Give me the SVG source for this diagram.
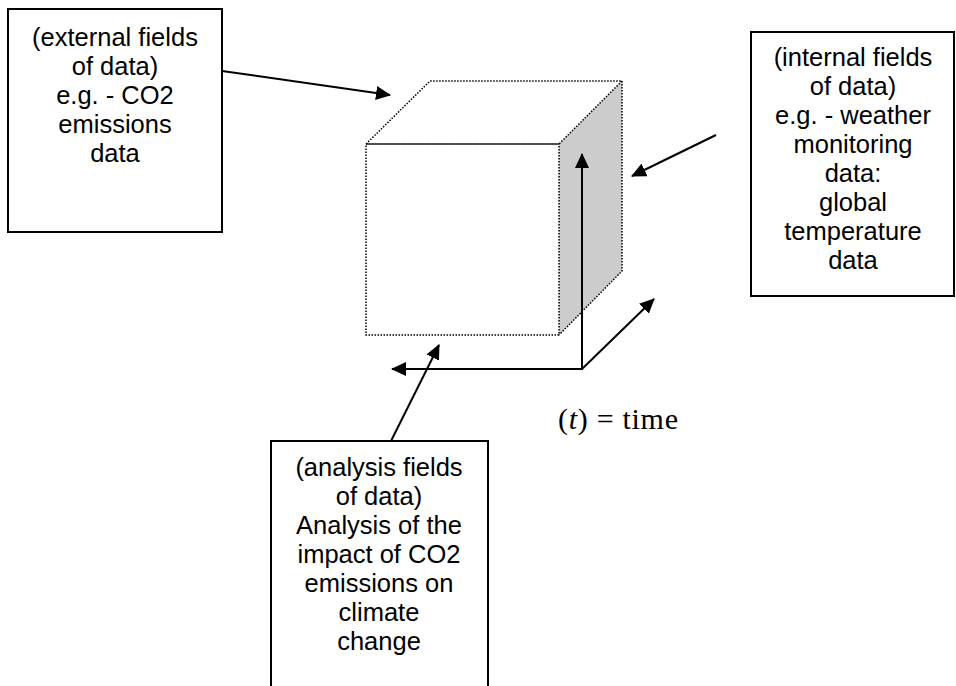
<svg xmlns="http://www.w3.org/2000/svg" width="956" height="686" viewBox="0 0 956 686">
<defs>
<style>
.box{fill:#fff;stroke:#000;stroke-width:2}
.lbl{font-family:"Liberation Sans",Arial,sans-serif;font-size:25.5px;fill:#000;text-anchor:middle}
.dot{fill:none;stroke:#000;stroke-width:1.5;stroke-dasharray:1.5 1.5}
.arr{fill:none;stroke:#000;stroke-width:2;marker-end:url(#ah)}
.math{font-family:"Liberation Serif","Times New Roman",serif;font-size:30px;fill:#000}
</style>
<marker id="ah" markerUnits="userSpaceOnUse" markerWidth="16" markerHeight="15" refX="14" refY="7" orient="auto" viewBox="0 0 16 15">
<path d="M0,0 L15,7 L0,14 z" fill="#000"/>
</marker>
</defs>
<rect width="956" height="686" fill="#fff"/>

<g id="cube">
<polygon points="559,144 622,81 622,271 559,335" fill="#cccccc"/>
<polygon class="dot" points="366,144 430,81 622,81 559,144"/>
<polyline class="dot" points="622,81 622,271 559,335"/>
<rect class="dot" x="366" y="144" width="193" height="191"/>
</g>

<g id="external">
<rect class="box" x="8" y="9" width="214" height="223"/>
<text class="lbl" x="115" y="46">(external fields</text>
<text class="lbl" x="115" y="75">of data)</text>
<text class="lbl" x="115" y="104">e.g. - CO2</text>
<text class="lbl" x="115" y="133">emissions</text>
<text class="lbl" x="115" y="162">data</text>
</g>

<g id="internal">
<rect class="box" x="751" y="32" width="203" height="264"/>
<text class="lbl" x="853" y="66">(internal fields</text>
<text class="lbl" x="853" y="95">of data)</text>
<text class="lbl" x="853" y="124">e.g. - weather</text>
<text class="lbl" x="853" y="153">monitoring</text>
<text class="lbl" x="853" y="182">data:</text>
<text class="lbl" x="853" y="211">global</text>
<text class="lbl" x="853" y="240">temperature</text>
<text class="lbl" x="853" y="269">data</text>
</g>

<g id="analysis">
<rect class="box" x="271" y="441" width="217" height="260"/>
<text class="lbl" x="379" y="476">(analysis fields</text>
<text class="lbl" x="379" y="505">of data)</text>
<text class="lbl" x="379" y="534">Analysis of the</text>
<text class="lbl" x="379" y="563">impact of CO2</text>
<text class="lbl" x="379" y="592">emissions on</text>
<text class="lbl" x="379" y="621">climate</text>
<text class="lbl" x="379" y="650">change</text>
</g>

<g id="time-label">
<text class="math" x="558" y="429" textLength="120" lengthAdjust="spacing">(<tspan font-style="italic">t</tspan>) = time</text>
</g>

<g id="connectors">
<line class="arr" x1="222" y1="71" x2="390" y2="95"/>
<line class="arr" x1="716" y1="135" x2="632" y2="176"/>
<line class="arr" x1="391" y1="441" x2="439" y2="345"/>
<line class="arr" x1="582" y1="369" x2="582" y2="154"/>
<line class="arr" x1="583" y1="369" x2="392" y2="369"/>
<line class="arr" x1="582" y1="369" x2="654" y2="299"/>
</g>
</svg>
